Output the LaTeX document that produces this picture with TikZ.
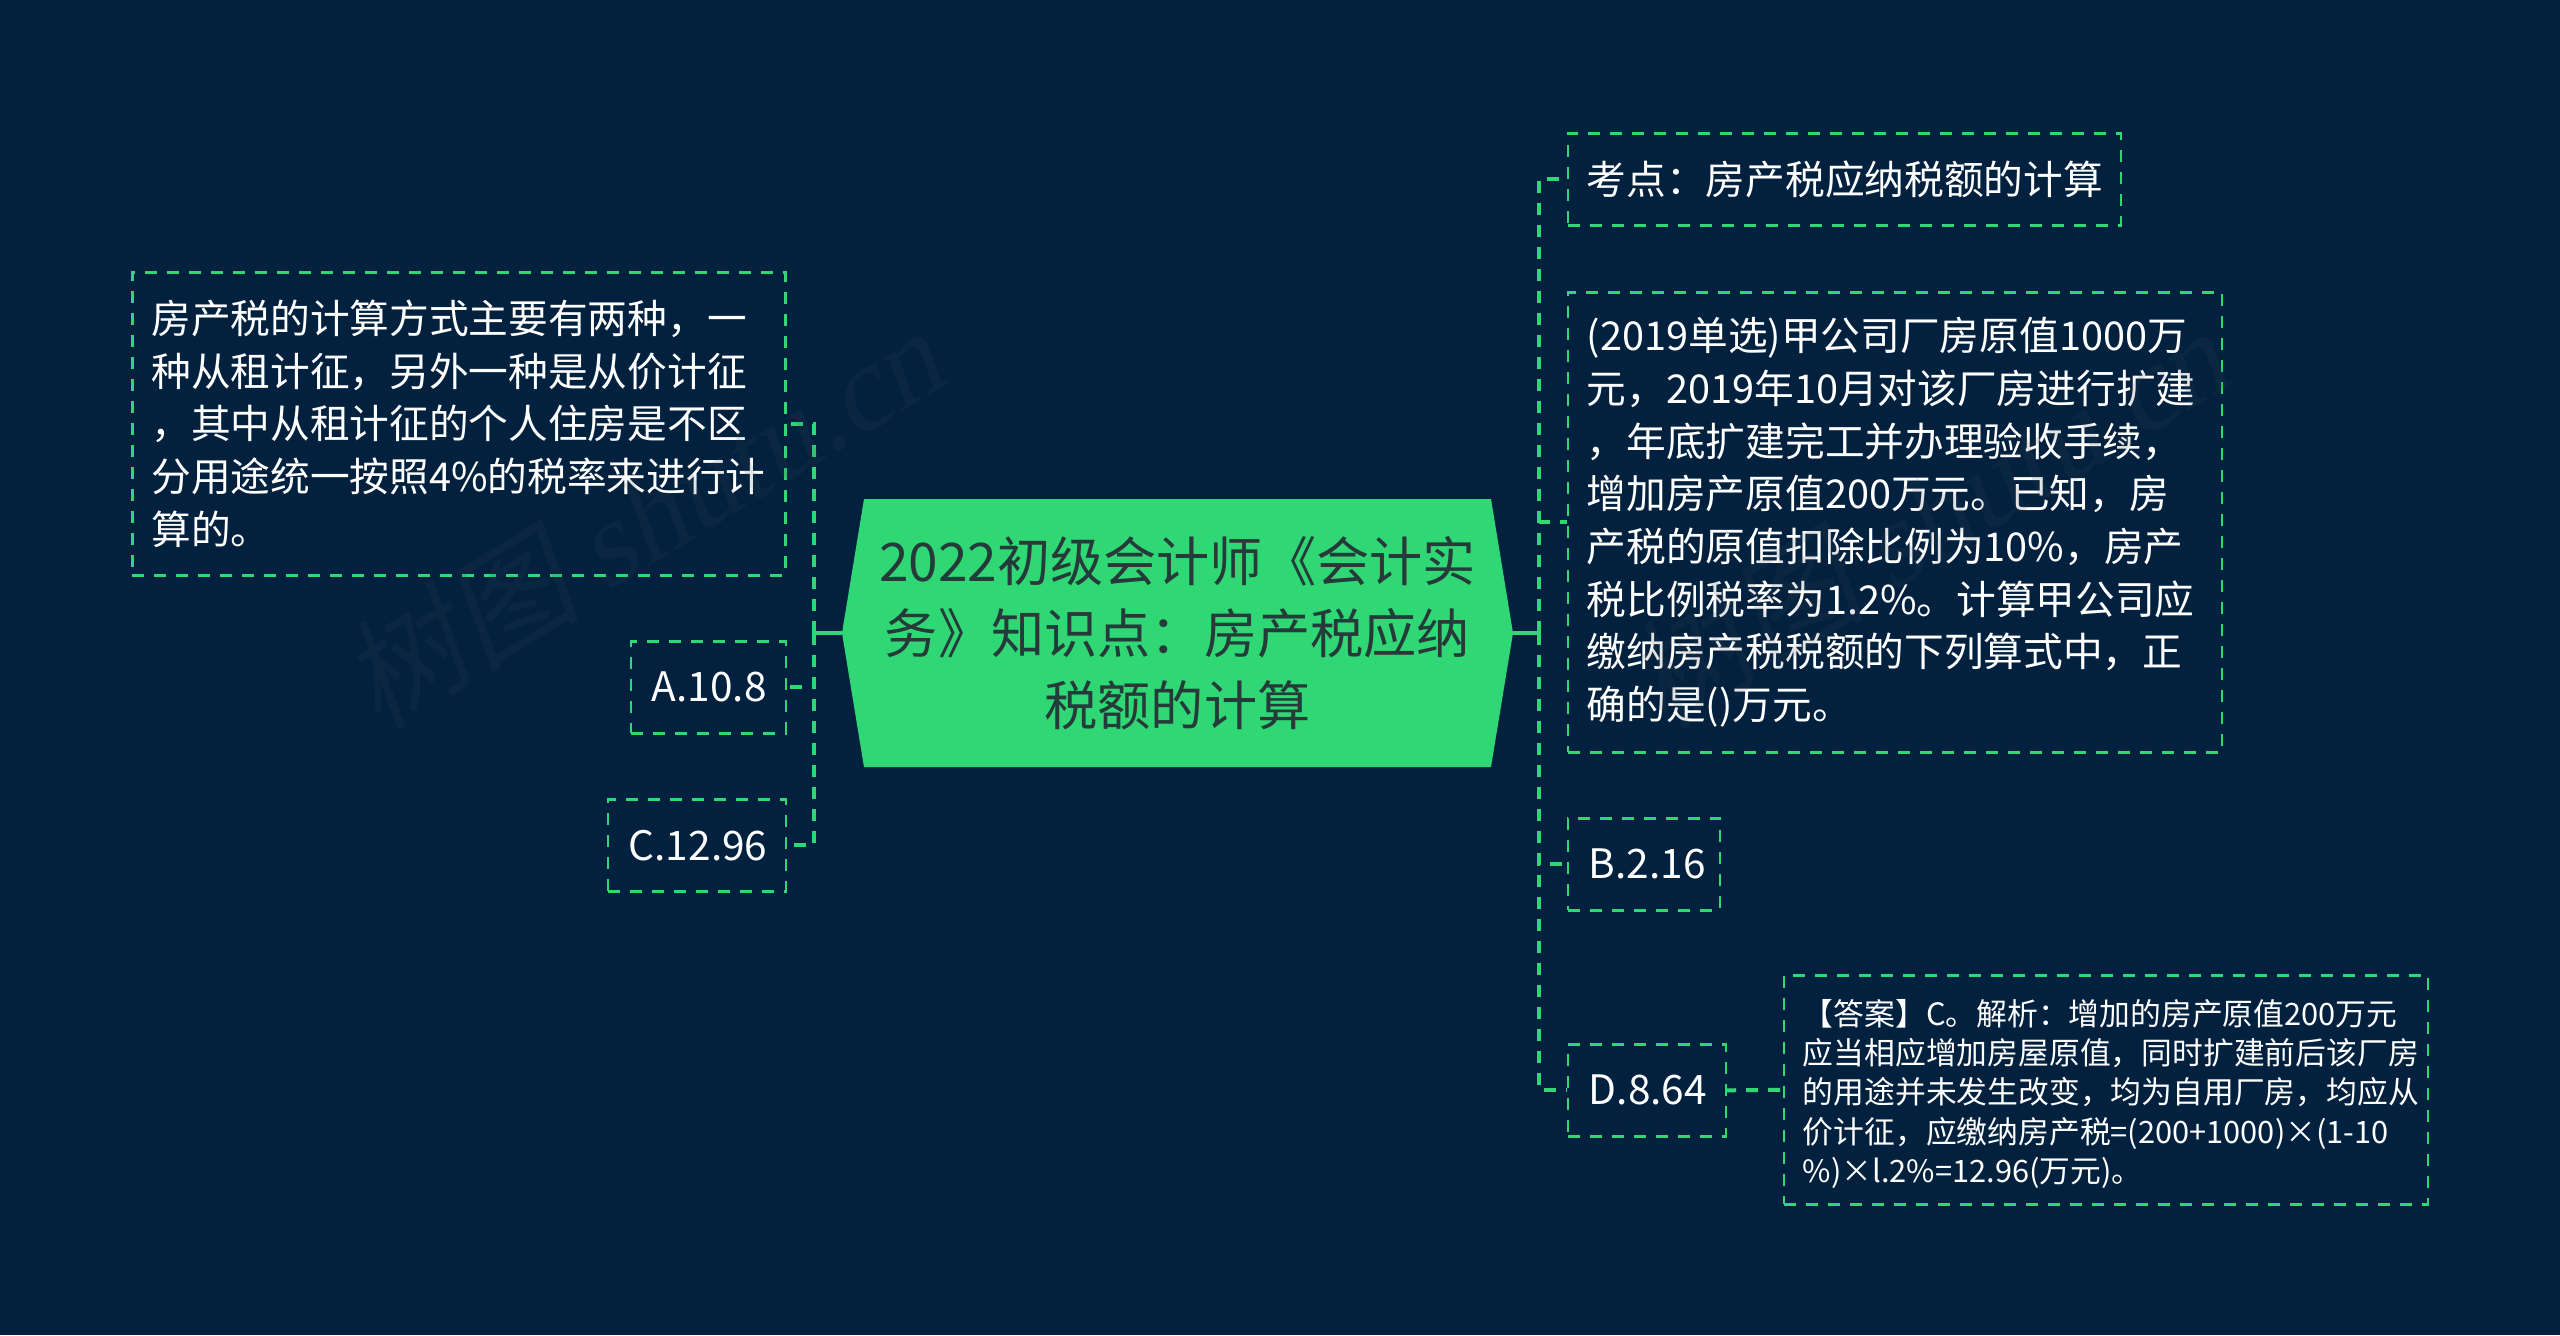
\documentclass[tikz,border=0pt]{standalone}
\usepackage{fontspec}
\setmainfont{Noto Sans CJK SC}
\newfontfamily\markcjk[FakeSlant=0.2]{Noto Sans CJK SC}
\newfontfamily\marklatin[FakeSlant=0.2]{Liberation Serif}
\definecolor{bgnavy}{RGB}{2,33,62}
\definecolor{linkgreen}{RGB}{47,216,117}
\definecolor{hubtext}{RGB}{38,58,58}
\definecolor{markgray}{RGB}{60,70,80}
\tikzset{
  hubnode/.style={text=hubtext, align=center, inner sep=0pt, font=\fontsize{26.6}{36}\selectfont},
  topicbox/.style={draw=linkgreen, dash pattern=on 6pt off 5pt, line width=1.3pt, text=white, anchor=north west, align=left, inner xsep=9.5pt, inner ysep=0pt, font=\fontsize{19.85}{26.35}\selectfont},
  optbox/.style={topicbox, inner xsep=10.5pt, font=\fontsize{20.3}{26.35}\selectfont},
  notebox/.style={topicbox, font=\fontsize{15.4}{19.6}\selectfont},
  stub/.style={draw=linkgreen, line width=2pt},
  link/.style={draw=linkgreen, line width=2pt, dash pattern=on 6pt off 5pt},
  markbox/.style={text=markgray, opacity=0.15, rotate=31.4, font=\fontsize{60}{60}\selectfont}
}
\begin{document}
\begin{tikzpicture}[x=0.5pt,y=-0.5pt]
  \fill[bgnavy] (0,0) rectangle (2560,1335);
  \useasboundingbox (0,0) rectangle (2560,1335);

  % centre
  \fill[linkgreen] (842,633) -- (864,499) -- (1491,499) -- (1513,633) -- (1491,767) -- (864,767) -- cycle;
  \node[hubnode, minimum width=335.5pt, minimum height=134pt] (hub) at (1177.5,633) {2022初级会计师《会计实\\务》知识点：房产税应纳\\税额的计算};

  % left side
  \node[topicbox, text width=307.5pt, minimum height=151.5pt] (rule) at (131,271) {房产税的计算方式主要有两种，一\\种从租计征，另外一种是从价计征\\，其中从租计征的个人住房是不区\\分用途统一按照4\%的税率来进行计\\算的。};
  \node[optbox, text width=56.5pt, minimum height=46pt] (optA) at (629.5,640) {A.10.8};
  \node[optbox, text width=68pt, minimum height=46pt] (optC) at (606.5,798) {C.12.96};

  % right side
  \node[topicbox, text width=257.5pt, minimum height=46pt] (point) at (1566.5,132) {考点：房产税应纳税额的计算};
  \node[topicbox, text width=308pt, minimum height=230pt] (task) at (1566.5,291) {(2019单选)甲公司厂房原值1000万\\元，2019年10月对该厂房进行扩建\\，年底扩建完工并办理验收手续，\\增加房产原值200万元。已知，房\\产税的原值扣除比例为10\%，房产\\税比例税率为1.2\%。计算甲公司应\\缴纳房产税税额的下列算式中，正\\确的是()万元。};
  \node[optbox, text width=55pt, minimum height=46pt] (optB) at (1566.5,817) {B.2.16};
  \node[optbox, text width=58pt, minimum height=46pt] (optD) at (1566.5,1043) {D.8.64};
  \node[notebox, text width=303pt, minimum height=114.5pt] (answer) at (1782.5,974) {\rule{0pt}{17pt}【答案】C。解析：增加的房产原值200万元\\应当相应增加房屋原值，同时扩建前后该厂房\\的用途并未发生改变，均为自用厂房，均应从\\价计征，应缴纳房产税=(200+1000)×(1-10\\\%)×l.2\%=12.96(万元)。};

  % connectors
  \coordinate (ltrunk) at (814,633);
  \coordinate (rtrunk) at (1539,633);
  \draw[stub] (hub.west) -- (ltrunk);
  \draw[stub] (hub.east) -- (rtrunk);
  \draw[link] (ltrunk) |- (rule.east);
  \draw[link] (ltrunk) |- (optA.east);
  \draw[link] (ltrunk) |- (optC.east);
  \draw[link] (rtrunk) |- (point.west);
  \draw[link] (rtrunk) |- (task.west);
  \draw[link] (rtrunk) |- (optB.west);
  \draw[link] (rtrunk) |- (optD.west);
  \draw[link, dash phase=1.5pt] (optD.east) -- (answer.west);

  % watermark
  \node[markbox] (mark) at (641,518) {\markcjk 树图 \marklatin shutu.cn};
  \node[markbox] (mark2) at (1926,518) {\markcjk 树图 \marklatin shutu.cn};
\end{tikzpicture}
\end{document}
